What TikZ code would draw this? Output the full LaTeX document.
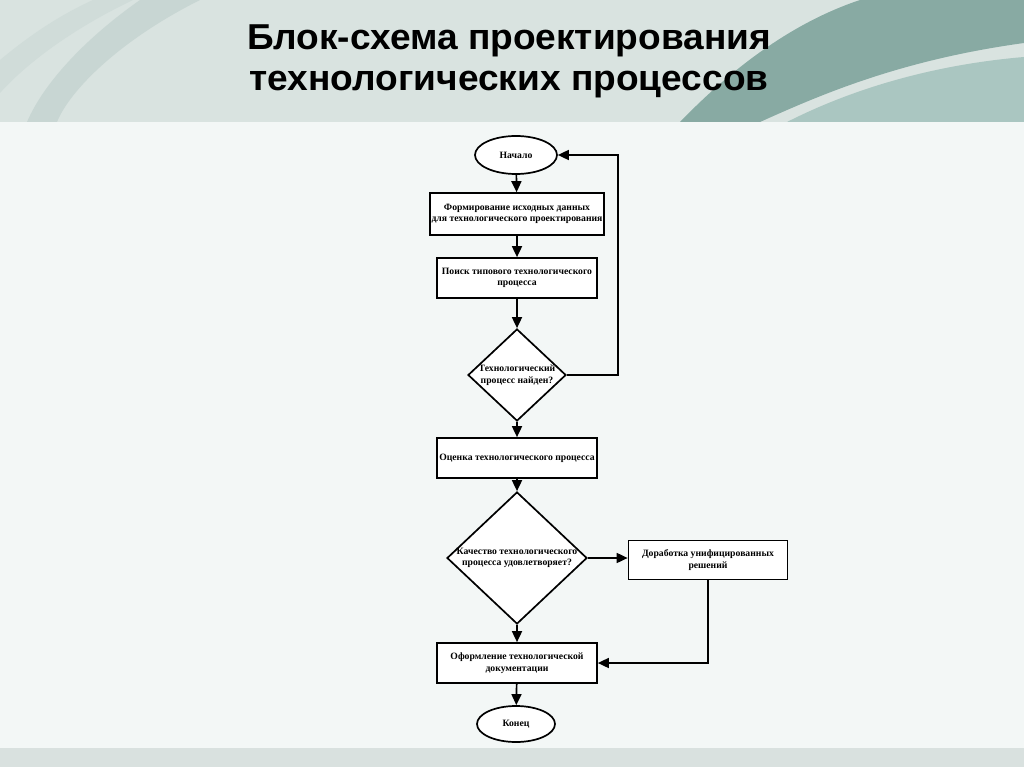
\documentclass[tikz,border=0pt]{standalone}
\usepackage{fontspec}
\setmainfont{Liberation Serif}
\newfontfamily\titlefont[FakeStretch=1.03]{Liberation Sans}
\usetikzlibrary{arrows.meta,shapes.geometric}

\definecolor{hdrbg}{HTML}{D9E3E0}
\definecolor{bodybg}{HTML}{F3F7F6}
\definecolor{footbg}{HTML}{D9E1DF}
\definecolor{tealdark}{HTML}{88AAA3}
\definecolor{teallight}{HTML}{AAC6C1}
\definecolor{swoosh}{HTML}{C8D6D3}
\definecolor{swooshlt}{HTML}{D0DCD9}

\begin{document}
\begin{tikzpicture}[x=1pt,y=-1pt,
        every node/.style={font=\bfseries\fontsize{9.7}{11.5}\selectfont,align=center},
        blk/.style={draw,line width=1.7pt,fill=white,minimum width=160pt,minimum height=40pt,inner sep=1pt},
        term/.style={draw,line width=1.7pt,fill=white,ellipse,inner sep=0pt},
        chk/.style={draw,line width=1.7pt,fill=white,diamond,inner sep=-8pt,aspect=1},
        flow/.style={line width=1.7pt,-{Triangle[length=11pt,width=10pt]}}]
        \useasboundingbox (0,0) rectangle (1024,767);
        \fill[bodybg] (0,0) rectangle (1024,767);
        \fill[hdrbg] (0,0) rectangle (1024,122);
        \fill[footbg] (0,748) rectangle (1024,767);
        \fill[swooshlt] (93,0) -- (133,0) .. controls (70,30) and (25,65) .. (0,93) -- (0,60) .. controls (30,35) and (60,15) .. (93,0) -- cycle;
        \fill[swoosh] (140,0) -- (200,0) .. controls (120,40) and (70,90) .. (57,122) -- (27,122) .. controls (45,80) and (90,35) .. (140,0) -- cycle;
        \fill[tealdark] (680,122) .. controls (740,60) and (800,20) .. (860,0) -- (1024,0) -- (1024,43) .. controls (900,60) and (820,95) .. (760,122) -- cycle;
        \fill[teallight] (787,122) .. controls (850,90) and (930,65) .. (1024,57) -- (1024,122) -- cycle;
        \node[font=\titlefont\bfseries\fontsize{36}{41}\selectfont] (title) at (509,61) {Блок-схема проектирования\\технологических процессов};

        \node[term,minimum width=82pt,minimum height=38pt] (start) at (516,155) {Начало};
        \node[blk,minimum width=174pt,minimum height=42pt] (form) at (517,214) {Формирование исходных данных\\для технологического проектирования};
        \node[blk] (search) at (517,278) {Поиск типового технологического\\процесса};
        \node[chk,minimum width=98pt,minimum height=92pt] (found) at (517,375) {Технологический\\процесс найден?};
        \node[blk] (eval) at (517,458) {Оценка технологического процесса};
        \node[chk,minimum width=140pt,minimum height=132pt] (quality) at (517,558) {Качество технологического\\процесса удовлетворяет?};
        \node[blk,minimum width=159pt,minimum height=39pt] (rework) at (708,560) {Доработка унифицированных\\решений};
        \node[blk] (docs) at (517,663) {Оформление технологической\\документации};
        \node[term,minimum width=78pt,minimum height=36pt] (finish) at (516,724) {Конец};
        \coordinate (loop) at (618,155);

        \draw[flow] (start) -- (form);
        \draw[flow] (form) -- (search);
        \draw[flow] (search) -- (found);
        \draw[flow] (found) -- (eval);
        \draw[flow] (found.east) -| (loop) -- (start.east);
        \draw[flow] (eval) -- (quality);
        \draw[flow] (quality.east) -- (rework.west |- quality.east);
        \draw[flow] (quality) -- (docs);
        \draw[flow] (rework.south) |- (docs.east);
        \draw[flow] (docs) -- (finish);
    \end{tikzpicture}
\end{document}
